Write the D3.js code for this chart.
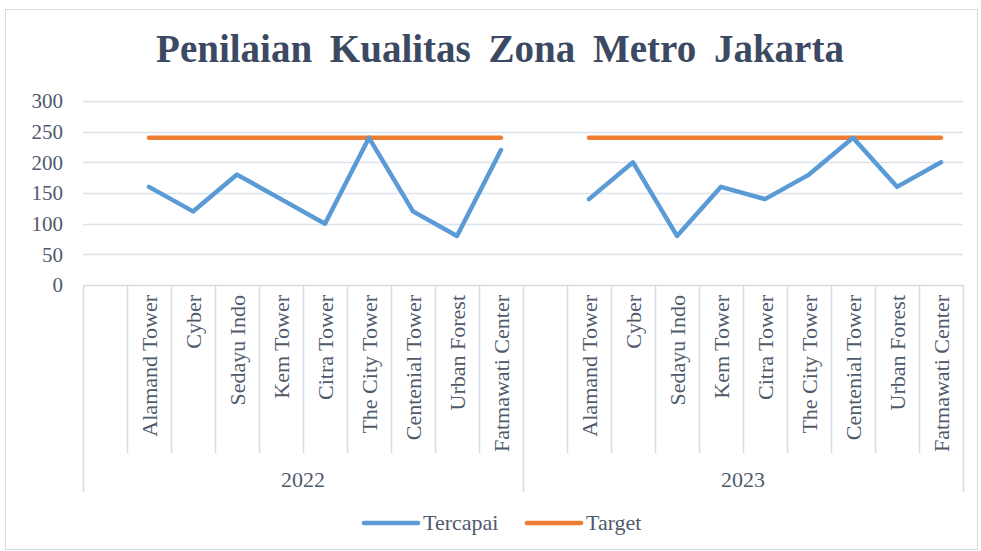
<!DOCTYPE html>
<html>
<head>
<meta charset="utf-8">
<script src="https://cdn.jsdelivr.net/npm/d3@7"></script>
<style>
  body { margin: 0; background: #fff; }
  svg { display: block; }
</style>
</head>
<body>
<svg id="chart" width="981" height="551"></svg>
<script>
// data
const years = ["2022", "2023"];
const zones = ["Alamand Tower", "Cyber", "Sedayu Indo", "Kem Tower", "Citra Tower",
  "The City Tower", "Centenial Tower", "Urban Forest", "Fatmawati Center"];
const tercapai2022 = [160, 120, 180, 140, 100, 240, 120, 80, 220];
const tercapai2023 = [140, 200, 80, 160, 140, 180, 240, 160, 200];
const target2022 = [240, 240, 240, 240, 240, 240, 240, 240, 240];
const target2023 = [240, 240, 240, 240, 240, 240, 240, 240, 240];
const yTicks = [0, 50, 100, 150, 200, 250, 300];

const svg = d3.select("#chart");
const margin = { top: 101, left: 83, right: 18, bottom: 266 };
const plotW = 981 - margin.left - margin.right;
const plotH = 551 - margin.top - margin.bottom;
const g = svg.append("g").attr("transform", `translate(${margin.left},${margin.top})`);

const textColor = "#4f5a6b";
const serif = "'Liberation Serif', 'DejaVu Serif', serif";

// chart border
svg.append("rect")
  .attr("x", 5.5).attr("y", 9.5)
  .attr("width", 972).attr("height", 540)
  .attr("fill", "none")
  .attr("stroke", "#d9d9d9");

// title
svg.append("text")
  .attr("x", 500)
  .attr("y", 62)
  .attr("text-anchor", "middle")
  .style("font-family", serif)
  .style("font-weight", "bold")
  .style("font-size", "39px")
  .style("word-spacing", "8px")
  .attr("fill", "#3b4a62")
  .text("Penilaian Kualitas Zona Metro Jakarta");

// slots: an empty slot before each year's zones
const slots = [];
years.forEach(yr => {
  slots.push(yr + "|");
  zones.forEach(z => slots.push(yr + "|" + z));
});

const x = d3.scaleBand().domain(slots).range([0, plotW]).padding(0);
const y = d3.scaleLinear().domain([0, 300]).range([plotH, 0]);

// gridlines
g.append("g")
  .selectAll("line")
  .data(yTicks.filter(d => d > 0))
  .join("line")
  .attr("x1", 0).attr("x2", plotW)
  .attr("y1", d => Math.round(y(d)) + 0.5)
  .attr("y2", d => Math.round(y(d)) + 0.5)
  .attr("stroke", "#dde1ea")
  .attr("stroke-width", 1.5);

// y axis labels
const yAxis = g.append("g").call(d3.axisLeft(y).tickValues(yTicks).tickSize(0).tickPadding(20));
yAxis.select(".domain").remove();
yAxis.selectAll("text")
  .style("font-family", serif)
  .style("font-size", "21px")
  .attr("fill", textColor);

// category axis (two levels)
const axisG = g.append("g").attr("transform", `translate(0,${plotH})`);
const lvl1 = 168, lvl2 = 207;
const lineColor = "#d6dbe4";

axisG.append("line")
  .attr("x1", 0).attr("x2", plotW)
  .attr("y1", 0.5).attr("y2", 0.5)
  .attr("stroke", lineColor).attr("stroke-width", 1.5);

// slot separators
axisG.selectAll(".sep")
  .data(slots.filter((s, i) => i % (zones.length + 1) !== 0))
  .join("line")
  .attr("class", "sep")
  .attr("x1", d => Math.round(x(d)) + 0.5)
  .attr("x2", d => Math.round(x(d)) + 0.5)
  .attr("y1", 0).attr("y2", lvl1)
  .attr("stroke", lineColor).attr("stroke-width", 1.5);

// group separators
const groupEdges = years.map(yr => x(yr + "|")).concat([plotW]);
axisG.selectAll(".gsep")
  .data(groupEdges)
  .join("line")
  .attr("class", "gsep")
  .attr("x1", d => Math.round(d) + 0.5)
  .attr("x2", d => Math.round(d) + 0.5)
  .attr("y1", 0).attr("y2", lvl2)
  .attr("stroke", lineColor).attr("stroke-width", 1.5);

// zone labels (rotated)
axisG.selectAll(".zlab")
  .data(slots.filter(s => s.split("|")[1]))
  .join("text")
  .attr("class", "zlab")
  .attr("transform", d => `translate(${x(d) + x.bandwidth() / 2 + 8},10) rotate(-90)`)
  .attr("text-anchor", "end")
  .style("font-family", serif)
  .style("font-size", "22px")
  .attr("fill", textColor)
  .text(d => d.split("|")[1]);

// year labels
axisG.selectAll(".ylab")
  .data(years)
  .join("text")
  .attr("class", "ylab")
  .attr("x", (d, i) => (groupEdges[i] + groupEdges[i + 1]) / 2)
  .attr("y", 202)
  .attr("text-anchor", "middle")
  .style("font-family", serif)
  .style("font-size", "22px")
  .attr("fill", textColor)
  .text(d => d);

// lines
const blue = "#5b9bd5", orange = "#ed7d31";
const line = d3.line()
  .x(d => x(d.slot) + x.bandwidth() / 2)
  .y(d => y(d.v));

const series = [
  { color: orange, data: [["2022", target2022], ["2023", target2023]] },
  { color: blue, data: [["2022", tercapai2022], ["2023", tercapai2023]] }
];
series.forEach(s => {
  s.data.forEach(([yr, vals]) => {
    g.append("path")
      .datum(zones.map((z, i) => ({ slot: yr + "|" + z, v: vals[i] })))
      .attr("d", line)
      .attr("fill", "none")
      .attr("stroke", s.color)
      .attr("stroke-width", 4.5)
      .attr("stroke-linecap", "round")
      .attr("stroke-linejoin", "round");
  });
});

// legend
const legend = svg.append("g").attr("transform", "translate(0,523)");
const legendItems = [
  { name: "Tercapai", color: blue, x: 364 },
  { name: "Target", color: orange, x: 527 }
];
legendItems.forEach(it => {
  legend.append("line")
    .attr("x1", it.x).attr("x2", it.x + 54)
    .attr("y1", 0).attr("y2", 0)
    .attr("stroke", it.color)
    .attr("stroke-width", 4.5)
    .attr("stroke-linecap", "round");
  legend.append("text")
    .attr("x", it.x + 59)
    .attr("y", 7)
    .style("font-family", serif)
    .style("font-size", "22px")
    .attr("fill", textColor)
    .text(it.name);
});
</script>
</body>
</html>
